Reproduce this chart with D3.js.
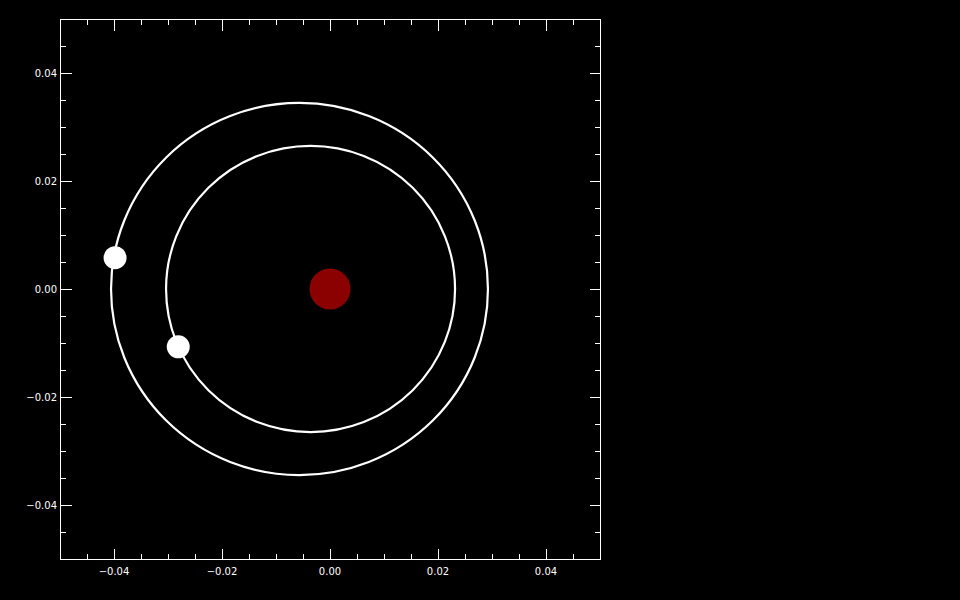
<!DOCTYPE html>
<html><head><meta charset="utf-8">
<script src="https://cdn.jsdelivr.net/npm/d3@7"></script>
<style>html,body{margin:0;padding:0;background:#000;overflow:hidden}</style>
</head><body>
<svg id="c" width="960" height="600"></svg>
<script>
// Data
const xDomain = [-0.05, 0.05];
const yDomain = [-0.05, 0.05];
const majorTicks = [-0.04, -0.02, 0.00, 0.02, 0.04];
const minorTicks = [-0.045,-0.035,-0.03,-0.025,-0.015,-0.01,-0.005,0.005,0.01,0.015,0.025,0.03,0.035,0.045];
const orbitNames = ["inner", "outer"];
const orbitCenterX = [-0.0036, -0.00565];
const orbitCenterY = [0.0, 0.0];
const orbitSemiX = [0.02676, 0.0349];
const orbitSemiY = [0.0265, 0.03445];
const planetX = [-0.0281, -0.0398];
const planetY = [-0.0107, 0.0058];
const starX = [0.0];
const starY = [0.0];

const svg = d3.select("#c");
svg.append("rect").attr("width",960).attr("height",600).attr("fill","#000");
const L=60, R=600, T=19, B=559;
const x = d3.scaleLinear().domain(xDomain).range([L,R]);
const y = d3.scaleLinear().domain(yDomain).range([B,T]);
const fmt = d => (d<0?"\u2212":"") + Math.abs(d).toFixed(2);
const h = v => Math.round(v)+0.5;

const g = svg.append("g");
// orbits
g.selectAll("ellipse.orbit").data(orbitNames).join("ellipse")
  .attr("cx",(d,i)=>x(orbitCenterX[i])).attr("cy",(d,i)=>y(orbitCenterY[i]))
  .attr("rx",(d,i)=>x(orbitSemiX[i])-x(0)).attr("ry",(d,i)=>y(0)-y(orbitSemiY[i]))
  .attr("fill","none").attr("stroke","#fff").attr("stroke-width",2.2);
// star
g.selectAll("circle.star").data(starX).join("circle")
  .attr("cx",d=>x(d)).attr("cy",(d,i)=>y(starY[i])).attr("r",20.5).attr("fill","#8b0000");
// planets
g.selectAll("circle.planet").data(planetX).join("circle")
  .attr("cx",d=>x(d)).attr("cy",(d,i)=>y(planetY[i])).attr("r",11.5).attr("fill","#fff");

// axes, ticks inside
const ax = svg.append("g").attr("stroke","#fff").attr("stroke-width",1).attr("fill","none")
  .attr("shape-rendering","crispEdges");
ax.append("rect").attr("x",h(L)).attr("y",h(T)).attr("width",R-L).attr("height",B-T);
const tk = (vals,len)=>{
  vals.forEach(v=>{
    const px=h(x(v)), py=h(y(v));
    ax.append("line").attr("x1",px).attr("x2",px).attr("y1",h(B)).attr("y2",h(B)-len);
    ax.append("line").attr("x1",px).attr("x2",px).attr("y1",h(T)).attr("y2",h(T)+len);
    ax.append("line").attr("y1",py).attr("y2",py).attr("x1",h(L)).attr("x2",h(L)+len);
    ax.append("line").attr("y1",py).attr("y2",py).attr("x1",h(R)).attr("x2",h(R)-len);
  });
};
tk(majorTicks,11);
tk(minorTicks,5.5);

const lab = svg.append("g").attr("fill","#fff").attr("font-family","DejaVu Sans, sans-serif").attr("font-size",10);
lab.selectAll("text.xl").data(majorTicks).join("text")
  .attr("x",d=>x(d)).attr("y",575).attr("text-anchor","middle").text(fmt);
lab.selectAll("text.yl").data(majorTicks).join("text")
  .attr("x",57).attr("y",d=>y(d)+4).attr("text-anchor","end").text(fmt);
</script>
</body></html>
